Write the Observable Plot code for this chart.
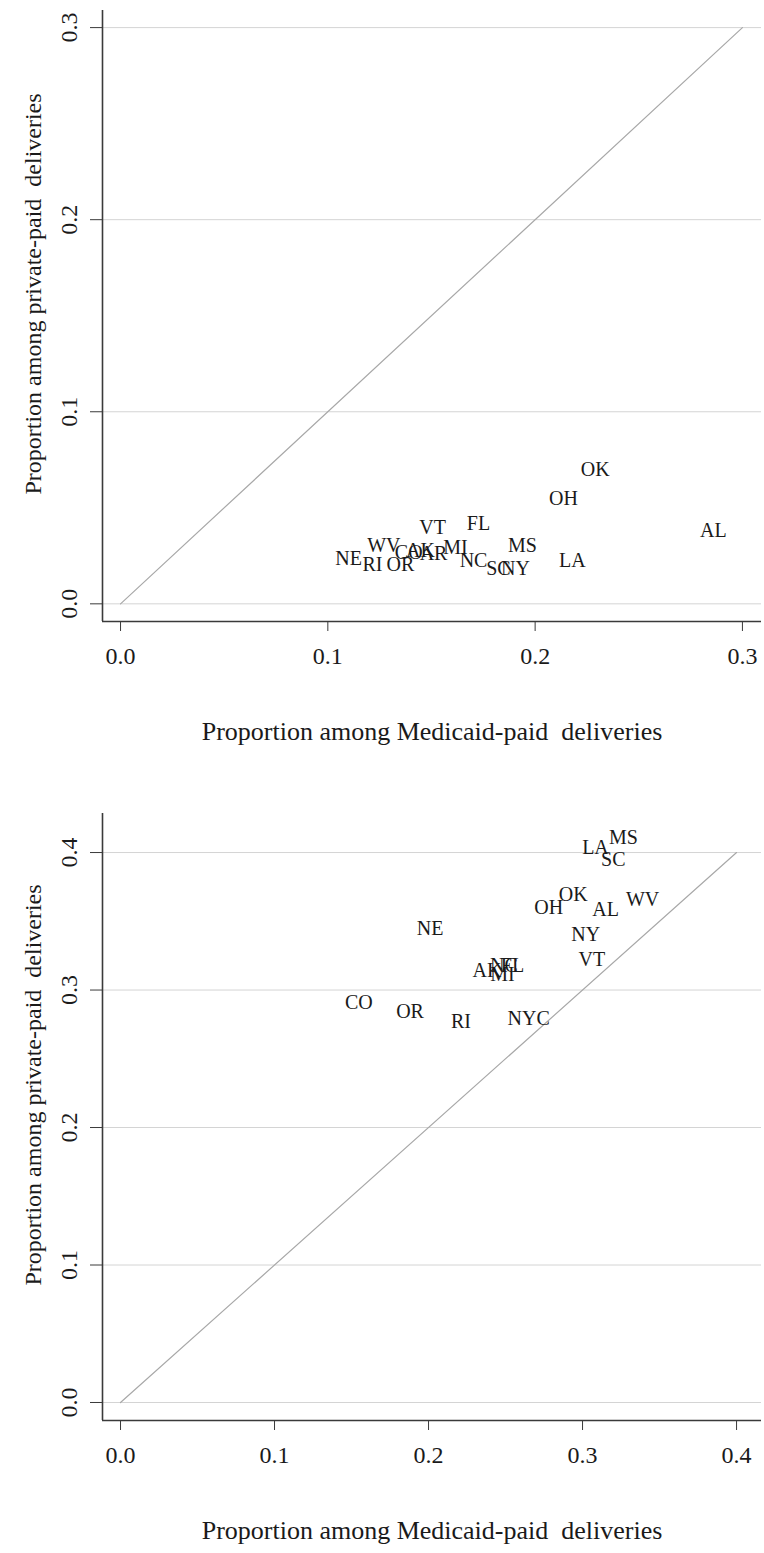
<!DOCTYPE html>
<html><head><meta charset="utf-8">
<script src="https://cdn.jsdelivr.net/npm/d3@7"></script>
<script src="https://cdn.jsdelivr.net/npm/@observablehq/plot@0.6"></script>
<style>
body{margin:0;background:#fff}
#chart svg{display:block}
</style>
</head><body><div id="chart"></div>
<script>
// Panel 1
const states1   = ["NE","RI","OR","WV","CO","AK","AR","MI","VT","FL","NC","SC","NY","MS","LA","OH","OK","AL"];
const medicaid1 = [0.110,0.1215,0.135,0.127,0.139,0.1447,0.151,0.1616,0.1505,0.1727,0.1703,0.1823,0.1905,0.1939,0.218,0.2137,0.229,0.286];
const private1  = [0.0234,0.0203,0.0203,0.0302,0.0266,0.0276,0.026,0.0292,0.0396,0.0417,0.0224,0.0182,0.0182,0.0302,0.0224,0.0547,0.0698,0.038];
const ticks1 = [0, 0.1, 0.2, 0.3];

// Panel 2
const states2   = ["MS","LA","SC","OK","OH","AL","WV","NY","VT","NE","CO","OR","RI","NYC","AK","MI","NC","FL"];
const medicaid2 = [0.3266,0.3084,0.320,0.294,0.278,0.315,0.339,0.302,0.306,0.201,0.1548,0.188,0.221,0.265,0.238,0.248,0.249,0.2545];
const private2  = [0.411,0.4036,0.395,0.3696,0.360,0.3587,0.366,0.3406,0.322,0.345,0.291,0.284,0.277,0.279,0.3145,0.311,0.318,0.318];
const ticks2 = [0, 0.1, 0.2, 0.3, 0.4];

const xTitle = "Proportion among Medicaid-paid  deliveries";
const yTitle = "Proportion among private-paid  deliveries";

function panel({states, xs, ys, ticks, height, marginTop, marginBottom, xDomain, yDomain, yTitleShift}) {
  const data = states.map((s, i) => ({s, x: xs[i], y: ys[i]}));
  const maxT = ticks[ticks.length - 1];
  const fmt = d3.format(".1f");
  return Plot.plot({
    width: 764, height,
    marginLeft: 102, marginRight: 3, marginTop, marginBottom,
    style: {fontFamily: "'Liberation Serif', 'Times New Roman', serif", fontSize: "24px", background: "#fff", color: "#1a1a1a", overflow: "visible"},
    x: {domain: xDomain},
    y: {domain: yDomain},
    marks: [
      Plot.gridY(ticks, {stroke: "#d4d4d4", strokeOpacity: 1, strokeWidth: 1}),
      Plot.line([[0, 0], [maxT, maxT]], {x: d => d[0], y: d => d[1], stroke: "#a8a8a8", strokeWidth: 1.2}),
      Plot.ruleX([xDomain[0]], {stroke: "#3a3a3a", strokeWidth: 1.6}),
      Plot.ruleY([yDomain[0]], {stroke: "#3a3a3a", strokeWidth: 1.6}),
      Plot.axisX(ticks, {tickFormat: fmt, tickSize: 10, tickPadding: 15, fontSize: 24, stroke: "#3a3a3a", label: null}),
      Plot.axisY(ticks, {tickFormat: fmt, tickSize: 12, tickPadding: 14, tickRotate: -90, fontSize: 24, stroke: "#3a3a3a", label: null}),
      Plot.text(data, {x: "x", y: "y", text: "s", fontSize: 20, fill: "#1a1a1a"}),
      Plot.text([xTitle], {frameAnchor: "bottom", dy: 118, fontSize: 26, fill: "#1a1a1a"}),
      Plot.text([yTitle], {frameAnchor: "left", textAnchor: "middle", dx: -69, dy: yTitleShift, rotate: -90, fontSize: 24, fill: "#1a1a1a"})
    ]
  });
}

const root = document.getElementById("chart");
root.appendChild(panel({states: states1, xs: medicaid1, ys: private1, ticks: ticks1,
  height: 790, marginTop: 10, marginBottom: 169,
  xDomain: [-0.0087, 0.3092], yDomain: [-0.0092, 0.3089], yTitleShift: -22}));
root.appendChild(panel({states: states2, xs: medicaid2, ys: private2, ticks: ticks2,
  height: 763, marginTop: 23, marginBottom: 133,
  xDomain: [-0.0117, 0.4162], yDomain: [-0.0131, 0.4284], yTitleShift: -32}));
</script>
</body></html>
